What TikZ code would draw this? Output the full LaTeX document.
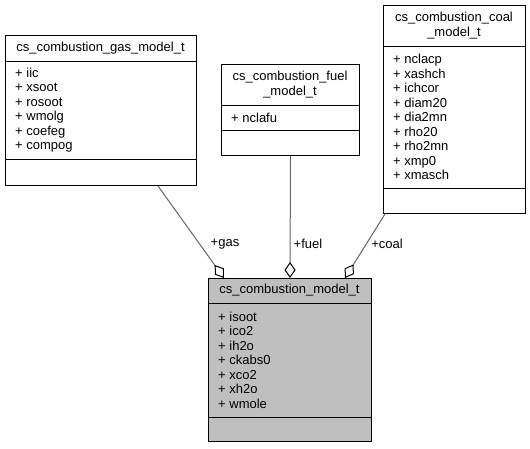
\documentclass[tikz,border=0pt]{standalone}
\usepackage{fontspec}
\setmainfont{Liberation Sans}
\usetikzlibrary{math, arrows.meta}

\begin{document}
\begin{tikzpicture}[x=1pt, y=-1pt,
  umlbox/.style={draw=black, line width=1pt, inner sep=0pt, anchor=north west},
  boxtitle/.style={inner sep=0pt, align=center, font=\fontsize{13}{15}\selectfont},
  members/.style={inner sep=0pt, anchor=west, align=left, font=\fontsize{13}{14.5}\selectfont},
  link/.style={draw=black!60, line width=1pt, {Diamond[open, color=black, length=16pt, width=11pt]}-},
  linklabel/.style={inner sep=0pt, font=\fontsize{13}{15}\selectfont}]

\tikzmath{
\pad = 10;
}

\useasboundingbox (0,0) rectangle (530,448);

% gas model
\node[umlbox, minimum width=191pt, minimum height=150pt] (gas) at (5,35) {};
\draw[line width=1pt] (5,61) -- (196,61);
\draw[line width=1pt] (5,159) -- (196,159);
\node[boxtitle] (gas_title) at (100.5,48) {cs\_combustion\_gas\_model\_t};
\node[members] (gas_members) at (5+\pad,110) {+ iic\\+ xsoot\\+ rosoot\\+ wmolg\\+ coefeg\\+ compog};

% fuel model
\node[umlbox, minimum width=138pt, minimum height=91pt] (fuel) at (221,64) {};
\draw[line width=1pt] (221,105) -- (359,105);
\draw[line width=1pt] (221,130) -- (359,130);
\node[boxtitle] (fuel_title) at (290,84.5) {cs\_combustion\_fuel\\\_model\_t};
\node[members] (fuel_members) at (221+\pad,117.5) {+ nclafu};

% coal model
\node[umlbox, minimum width=142pt, minimum height=208pt] (coal) at (383,5) {};
\draw[line width=1pt] (383,46) -- (525,46);
\draw[line width=1pt] (383,188) -- (525,188);
\node[boxtitle] (coal_title) at (454,25.5) {cs\_combustion\_coal\\\_model\_t};
\node[members] (coal_members) at (383+\pad,117) {+ nclacp\\+ xashch\\+ ichcor\\+ diam20\\+ dia2mn\\+ rho20\\+ rho2mn\\+ xmp0\\+ xmasch};

% combustion model
\node[umlbox, fill=black!25, minimum width=163pt, minimum height=163pt] (main) at (208,278) {};
\draw[line width=1pt] (208,303) -- (371,303);
\draw[line width=1pt] (208,417) -- (371,417);
\node[boxtitle] (main_title) at (289.5,290.5) {cs\_combustion\_model\_t};
\node[members] (main_members) at (208+\pad,360) {+ isoot\\+ ico2\\+ ih2o\\+ ckabs0\\+ xco2\\+ xh2o\\+ wmole};

% links
\draw[link] ([xshift=16pt]main.north west) -- ([xshift=-39pt]gas.south east);
\draw[link] (main.north) -- (fuel.south);
\draw[link] ([xshift=-27pt]main.north east) -- ([xshift=2pt]coal.south west);

\node[linklabel] (gas_label) at (225,244) {+gas};
\node[linklabel] (fuel_label) at (308,244) {+fuel};
\node[linklabel] (coal_label) at (387,244) {+coal};

\end{tikzpicture}
\end{document}
